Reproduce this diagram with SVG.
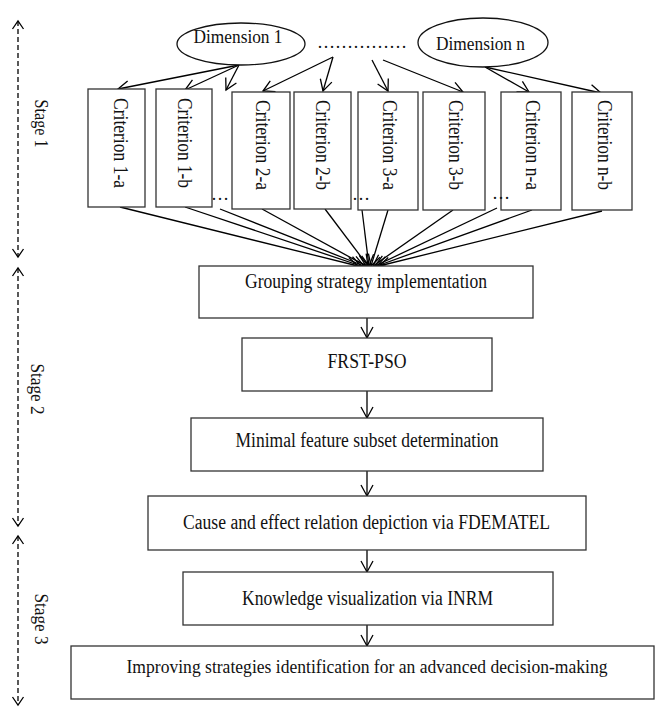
<svg xmlns="http://www.w3.org/2000/svg" width="655" height="707" viewBox="0 0 655 707">
<style>
.t{font-family:"Liberation Serif","Times New Roman",serif;font-size:20px;fill:#111}
.d{font-family:"Liberation Serif","Times New Roman",serif;font-size:18px;fill:#111}
.st{font-family:"Liberation Serif","Times New Roman",serif;font-size:18px;fill:#111}
.box{fill:#fff;stroke:#333;stroke-width:1.3}
.ell{fill:#fff;stroke:#111;stroke-width:1.3}
.ln{fill:none;stroke:#000;stroke-width:1.3;marker-end:url(#ah)}
.dash{fill:none;stroke:#000;stroke-width:1.3;stroke-dasharray:5 3;marker-start:url(#sh);marker-end:url(#sh)}
</style>
<defs>
<marker id="ah" markerUnits="userSpaceOnUse" viewBox="-13 -8 15 16" markerWidth="15" markerHeight="16" refX="0" refY="0" orient="auto">
<path d="M-11,-6 L0,0 L-11,6" fill="none" stroke="#000" stroke-width="1.3" stroke-dasharray="none"/>
</marker>
<marker id="sh" markerUnits="userSpaceOnUse" viewBox="-10 -7 12 14" markerWidth="12" markerHeight="14" refX="0" refY="0" orient="auto-start-reverse">
<path d="M-8,-5.5 L0,0 L-8,5.5" fill="none" stroke="#000" stroke-width="1.3" stroke-dasharray="none"/>
</marker>
</defs>

<g id="stages">
<line class="dash" x1="18" y1="21" x2="18" y2="257"/>
<line class="dash" x1="18" y1="268" x2="18" y2="526"/>
<line class="dash" x1="18" y1="536" x2="18" y2="705"/>
<text class="st" text-anchor="middle" textLength="48" lengthAdjust="spacingAndGlyphs" transform="translate(35,123.5) rotate(90)">Stage 1</text>
<text class="st" text-anchor="middle" textLength="51" lengthAdjust="spacingAndGlyphs" transform="translate(30.5,389) rotate(90)">Stage 2</text>
<text class="st" text-anchor="middle" textLength="51" lengthAdjust="spacingAndGlyphs" transform="translate(34.5,619) rotate(90)">Stage 3</text>
</g>

<g id="connectors">
<line class="ln" x1="239" y1="65" x2="118" y2="89"/>
<line class="ln" x1="239" y1="65" x2="185" y2="90"/>
<line class="ln" x1="239" y1="65" x2="226" y2="90"/>
<line class="ln" x1="333" y1="57" x2="263" y2="91"/>
<line class="ln" x1="333" y1="57" x2="323" y2="91"/>
<line class="ln" x1="372" y1="60" x2="388" y2="91"/>
<line class="ln" x1="383" y1="60" x2="463" y2="92"/>
<line class="ln" x1="485" y1="67" x2="529" y2="92"/>
<line class="ln" x1="485" y1="67" x2="601" y2="93"/>

<line class="ln" x1="120" y1="207" x2="358" y2="266"/>
<line class="ln" x1="185" y1="207" x2="361" y2="266"/>
<line class="ln" x1="220" y1="209" x2="364" y2="266"/>
<line class="ln" x1="262" y1="209" x2="366" y2="266"/>
<line class="ln" x1="325" y1="209" x2="368" y2="266"/>
<line class="ln" x1="362" y1="210" x2="369" y2="266"/>
<line class="ln" x1="388" y1="210" x2="371" y2="266"/>
<line class="ln" x1="453" y1="210" x2="373" y2="266"/>
<line class="ln" x1="497" y1="208" x2="375" y2="266"/>
<line class="ln" x1="532" y1="210" x2="377" y2="266"/>
<line class="ln" x1="602" y1="211" x2="379" y2="266"/>

<line class="ln" x1="367" y1="318" x2="367" y2="338"/>
<line class="ln" x1="367" y1="391" x2="367" y2="418"/>
<line class="ln" x1="367" y1="471" x2="367" y2="496"/>
<line class="ln" x1="367" y1="550" x2="367" y2="572"/>
<line class="ln" x1="367" y1="625" x2="367" y2="646"/>
</g>

<g id="dim1">
<ellipse class="ell" cx="241" cy="44" rx="64" ry="21"/>
<text class="d" x="238" y="42.5" text-anchor="middle" textLength="89" lengthAdjust="spacingAndGlyphs">Dimension 1</text>
</g>
<g id="dots">
<text class="d" x="317" y="48" textLength="90" lengthAdjust="spacingAndGlyphs">……………</text>
</g>
<g id="dimn">
<ellipse class="ell" cx="483" cy="42.5" rx="65" ry="24.5"/>
<text class="d" x="480.5" y="50" text-anchor="middle" textLength="89" lengthAdjust="spacingAndGlyphs">Dimension n</text>
</g>

<g id="c1a"><rect class="box" x="88" y="89" width="57" height="118"/><text class="t" textLength="90" lengthAdjust="spacingAndGlyphs" transform="translate(113.5,98) rotate(90)">Criterion 1-a</text></g>
<g id="c1b"><rect class="box" x="156" y="89" width="56" height="118"/><text class="t" textLength="90" lengthAdjust="spacingAndGlyphs" transform="translate(177.5,98) rotate(90)">Criterion 1-b</text></g>
<g id="c2a"><rect class="box" x="232" y="92" width="58" height="117"/><text class="t" textLength="90" lengthAdjust="spacingAndGlyphs" transform="translate(255.5,100) rotate(90)">Criterion 2-a</text></g>
<g id="c2b"><rect class="box" x="294" y="92" width="57" height="117"/><text class="t" textLength="90" lengthAdjust="spacingAndGlyphs" transform="translate(315.5,100) rotate(90)">Criterion 2-b</text></g>
<g id="c3a"><rect class="box" x="358" y="92" width="60" height="118"/><text class="t" textLength="90" lengthAdjust="spacingAndGlyphs" transform="translate(382.5,100) rotate(90)">Criterion 3-a</text></g>
<g id="c3b"><rect class="box" x="423" y="92" width="62" height="118"/><text class="t" textLength="90" lengthAdjust="spacingAndGlyphs" transform="translate(448.5,100) rotate(90)">Criterion 3-b</text></g>
<g id="cna"><rect class="box" x="501" y="92" width="60" height="118"/><text class="t" textLength="90" lengthAdjust="spacingAndGlyphs" transform="translate(525.5,100) rotate(90)">Criterion n-a</text></g>
<g id="cnb"><rect class="box" x="572" y="92" width="60" height="118"/><text class="t" textLength="90" lengthAdjust="spacingAndGlyphs" transform="translate(597.5,100) rotate(90)">Criterion n-b</text></g>

<g id="gaps">
<text class="d" x="211" y="200">…</text>
<text class="d" x="352" y="200">…</text>
<text class="d" x="492" y="199">…</text>
</g>

<g id="grouping"><rect class="box" x="199" y="266" width="334" height="52"/><text class="t" x="366" y="288" text-anchor="middle" textLength="242" lengthAdjust="spacingAndGlyphs">Grouping strategy implementation</text></g>
<g id="frst"><rect class="box" x="242" y="338" width="250" height="53"/><text class="t" x="367" y="368" text-anchor="middle" textLength="79" lengthAdjust="spacingAndGlyphs">FRST-PSO</text></g>
<g id="minimal"><rect class="box" x="191" y="418" width="352" height="53"/><text class="t" x="367" y="447" text-anchor="middle" textLength="263" lengthAdjust="spacingAndGlyphs">Minimal feature subset determination</text></g>
<g id="cause"><rect class="box" x="148" y="496" width="438" height="54"/><text class="t" x="366.5" y="529" text-anchor="middle" textLength="367" lengthAdjust="spacingAndGlyphs">Cause and effect relation depiction via FDEMATEL</text></g>
<g id="knowledge"><rect class="box" x="183" y="572" width="370" height="53"/><text class="t" x="367.5" y="605" text-anchor="middle" textLength="251" lengthAdjust="spacingAndGlyphs">Knowledge visualization via INRM</text></g>
<g id="improving"><rect class="box" x="71" y="646" width="583" height="53"/><text class="t" x="367" y="673" text-anchor="middle" style="font-size:18.5px" textLength="481" lengthAdjust="spacingAndGlyphs">Improving strategies identification for an advanced decision-making</text></g>
</svg>
